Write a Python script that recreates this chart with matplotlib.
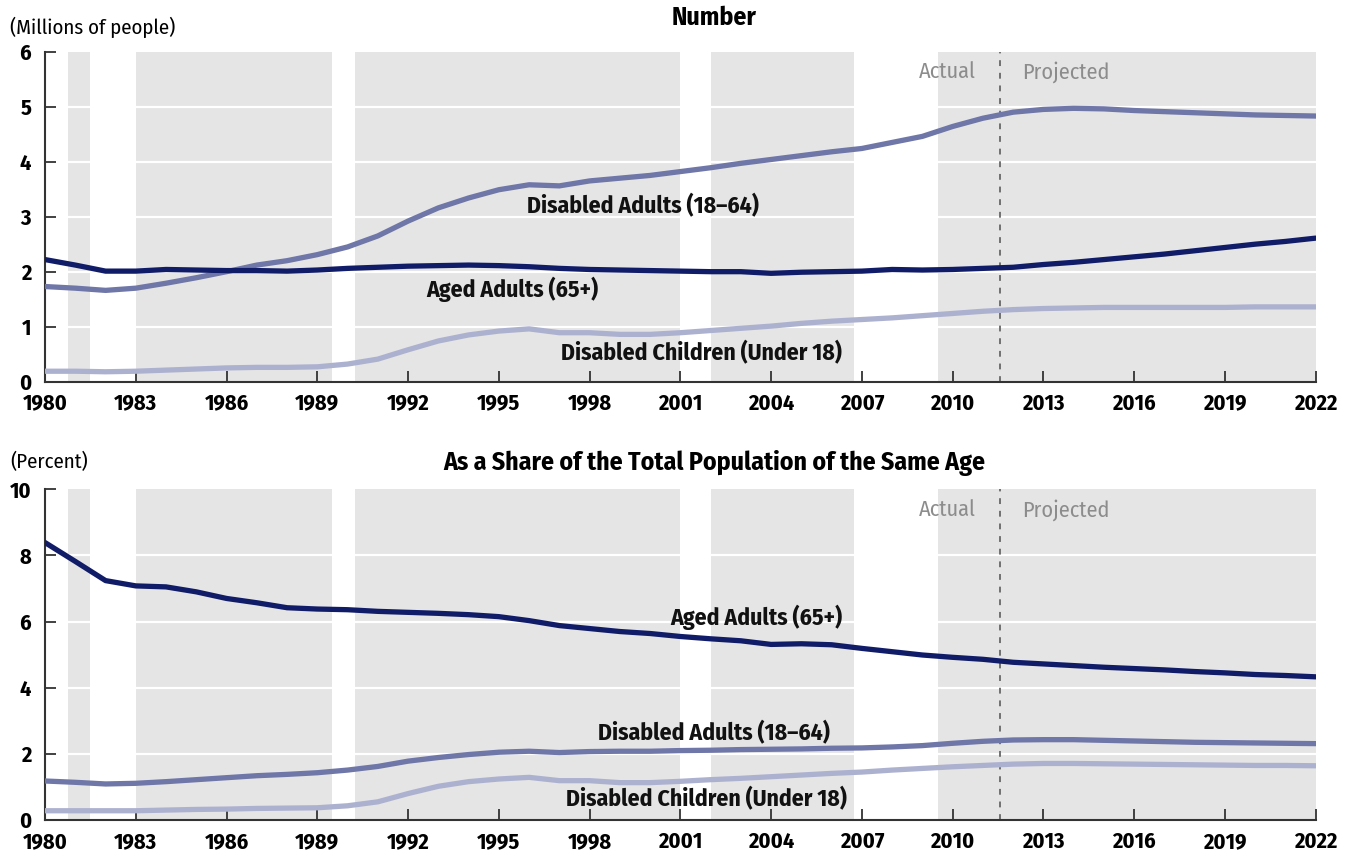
import matplotlib

matplotlib.use("Agg")

import matplotlib.pyplot as plt
import numpy as np
from matplotlib import font_manager


OUT_PATH = "out.png"

YEARS = list(range(1980, 2023))

# Number of people (millions)
AGED_NUMBER = [
    2.22, 2.12, 2.01, 2.01, 2.04, 2.03, 2.02, 2.02, 2.01, 2.03,
    2.06, 2.08, 2.10, 2.11, 2.12, 2.11, 2.09, 2.06, 2.04, 2.03,
    2.02, 2.01, 2.00, 2.00, 1.97, 1.99, 2.00, 2.01, 2.04, 2.03,
    2.04, 2.06, 2.08, 2.13, 2.17, 2.22, 2.27, 2.32, 2.38, 2.44,
    2.50, 2.55, 2.61,
]
DISABLED_ADULTS_NUMBER = [
    1.73, 1.70, 1.66, 1.70, 1.79, 1.89, 2.00, 2.12, 2.20, 2.31,
    2.45, 2.65, 2.92, 3.16, 3.34, 3.49, 3.58, 3.56, 3.65, 3.70,
    3.75, 3.82, 3.89, 3.97, 4.04, 4.11, 4.18, 4.24, 4.35, 4.46,
    4.64, 4.79, 4.90, 4.95, 4.97, 4.96, 4.93, 4.91, 4.89, 4.87,
    4.85, 4.84, 4.83,
]
DISABLED_CHILDREN_NUMBER = [
    0.19, 0.19, 0.18, 0.19, 0.21, 0.23, 0.25, 0.26, 0.26, 0.27,
    0.32, 0.41, 0.58, 0.74, 0.85, 0.92, 0.96, 0.89, 0.89, 0.86,
    0.86, 0.89, 0.93, 0.97, 1.01, 1.06, 1.10, 1.13, 1.16, 1.20,
    1.24, 1.28, 1.31, 1.33, 1.34, 1.35, 1.35, 1.35, 1.35, 1.35,
    1.36, 1.36, 1.36,
]

# Share of the population of the same age (percent)
AGED_SHARE = [
    8.39, 7.82, 7.24, 7.08, 7.05, 6.90, 6.70, 6.57, 6.42, 6.38,
    6.36, 6.31, 6.28, 6.25, 6.21, 6.15, 6.03, 5.88, 5.79, 5.70,
    5.64, 5.55, 5.48, 5.42, 5.31, 5.33, 5.30, 5.19, 5.09, 4.99,
    4.92, 4.86, 4.77, 4.72, 4.67, 4.62, 4.58, 4.54, 4.49, 4.45,
    4.40, 4.37, 4.33,
]
DISABLED_ADULTS_SHARE = [
    1.18, 1.14, 1.09, 1.11, 1.16, 1.22, 1.28, 1.34, 1.38, 1.43,
    1.51, 1.62, 1.78, 1.89, 1.98, 2.05, 2.08, 2.04, 2.07, 2.08,
    2.08, 2.10, 2.11, 2.13, 2.14, 2.15, 2.17, 2.18, 2.21, 2.25,
    2.32, 2.38, 2.42, 2.43, 2.43, 2.41, 2.39, 2.37, 2.35, 2.34,
    2.33, 2.32, 2.31,
]
DISABLED_CHILDREN_SHARE = [
    0.28, 0.28, 0.28, 0.28, 0.30, 0.32, 0.33, 0.35, 0.36, 0.37,
    0.43, 0.55, 0.80, 1.02, 1.16, 1.24, 1.29, 1.19, 1.19, 1.13,
    1.13, 1.17, 1.22, 1.26, 1.31, 1.36, 1.41, 1.45, 1.51, 1.56,
    1.61, 1.65, 1.69, 1.71, 1.71, 1.70, 1.69, 1.68, 1.67, 1.66,
    1.65, 1.65, 1.64,
]

# Grey shaded periods (start, end)
SHADED_PERIODS = [
    (1980.75, 1981.5),
    (1983.0, 1989.5),
    (1990.25, 2001.0),
    (2002.0, 2006.75),
    (2009.5, 2022.0),
]

PROJECTION_START = 2011.55

X_TICKS = list(range(1980, 2023, 3))

NAVY = "#111c68"
MID_BLUE = "#6f76a8"
LIGHT_BLUE = "#adb1d0"
SHADE = "#e5e5e5"
SPINE = "#333333"
NOTE_GREY = "#8c8c8c"

# Narrow sans, close to the condensed face of the original
FONT_CANDIDATES = [
    "Fira Sans Condensed",
    "Roboto Condensed",
    "IBM Plex Sans Condensed",
    "Open Sans",
    "DejaVu Sans",
]


def pick_font():
    installed = {f.name for f in font_manager.fontManager.ttflist}
    for name in FONT_CANDIDATES:
        if name in installed:
            return name
    return "DejaVu Sans"


FONT = pick_font()
plt.rcParams["font.family"] = [FONT, "DejaVu Sans"]


def draw_panel(ax, aged, adults, children, y_max, y_step, labels, note_y):
    for start, end in SHADED_PERIODS:
        ax.axvspan(start, end, ymin=0, ymax=1, color=SHADE, lw=0, zorder=0)

    for y in np.arange(y_step, y_max, y_step):
        ax.axhline(y, color="white", lw=1.6, zorder=1)

    ax.plot(YEARS, children, color=LIGHT_BLUE, lw=3.8, zorder=3,
            solid_capstyle="round")
    ax.plot(YEARS, adults, color=MID_BLUE, lw=3.8, zorder=3,
            solid_capstyle="round")
    ax.plot(YEARS, aged, color=NAVY, lw=3.8, zorder=4,
            solid_capstyle="round")

    ax.axvline(PROJECTION_START, color="#707070", lw=1.4,
               linestyle=(0, (3, 3.5)), zorder=2)

    ax.text(PROJECTION_START - 0.8, note_y, "Actual", color=NOTE_GREY,
            fontsize=16, ha="right", va="center")
    ax.text(PROJECTION_START + 0.75, note_y, "Projected", color=NOTE_GREY,
            fontsize=16, ha="left", va="center")

    for text, x, y in labels:
        ax.text(x, y, text, fontsize=17, fontweight="bold", color="#111111",
                ha="center", va="center", zorder=5)

    ax.set_xlim(1980, 2022)
    ax.set_ylim(0, y_max)
    ax.set_xticks(X_TICKS)
    ax.set_yticks(np.arange(0, y_max + 0.01, y_step))
    ax.yaxis.set_major_formatter(plt.FormatStrFormatter("%d"))

    ax.tick_params(axis="both", direction="in", length=8, width=1.3,
                   color=SPINE, labelsize=16)
    ax.tick_params(axis="x", pad=8)
    ax.tick_params(axis="y", pad=10)
    for label in ax.get_xticklabels() + ax.get_yticklabels():
        label.set_fontweight("bold")

    for side in ["top", "right"]:
        ax.spines[side].set_visible(False)
    for side in ["left", "bottom"]:
        ax.spines[side].set_color(SPINE)
        ax.spines[side].set_linewidth(1.5)
    ax.set_facecolor("white")


def main():
    fig = plt.figure(figsize=(13.53, 8.6), dpi=100)

    ax_top = fig.add_axes([0.0333, 0.5562, 0.9391, 0.3837])
    ax_bottom = fig.add_axes([0.0333, 0.0465, 0.9391, 0.3845])

    draw_panel(
        ax_top,
        AGED_NUMBER,
        DISABLED_ADULTS_NUMBER,
        DISABLED_CHILDREN_NUMBER,
        y_max=6,
        y_step=1,
        labels=[
            ("Disabled Adults (18\u201364)", 1999.75, 3.2),
            ("Aged Adults (65+)", 1995.45, 1.68),
            ("Disabled Children (Under 18)", 2001.7, 0.52),
        ],
        note_y=5.63,
    )

    draw_panel(
        ax_bottom,
        AGED_SHARE,
        DISABLED_ADULTS_SHARE,
        DISABLED_CHILDREN_SHARE,
        y_max=10,
        y_step=2,
        labels=[
            ("Aged Adults (65+)", 2003.5, 6.13),
            ("Disabled Adults (18\u201364)", 2002.1, 2.64),
            ("Disabled Children (Under 18)", 2001.85, 0.63),
        ],
        note_y=9.37,
    )

    fig.text(0.5277, 1 - 18 / 860, "Number", fontsize=18.5,
             fontweight="bold", ha="center", va="center")
    fig.text(0.5277, 1 - 463 / 860,
             "As a Share of the Total Population of the Same Age",
             fontsize=18.5, fontweight="bold", ha="center", va="center")
    fig.text(10 / 1353, 1 - 27 / 860, "(Millions of people)", fontsize=15,
             ha="left", va="center")
    fig.text(10 / 1353, 1 - 462 / 860, "(Percent)", fontsize=15,
             ha="left", va="center")

    fig.savefig(OUT_PATH, dpi=100)
    plt.close(fig)


if __name__ == "__main__":
    main()
